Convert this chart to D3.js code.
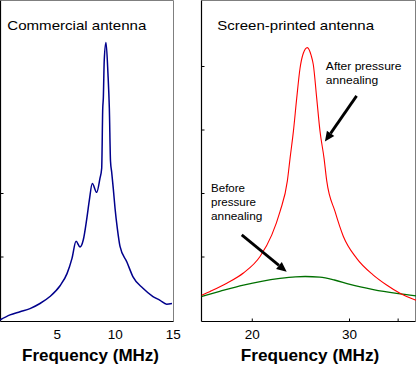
<!DOCTYPE html>
<html>
<head>
<meta charset="utf-8">
<script src="https://cdn.jsdelivr.net/npm/d3@7"></script>
<style>
  body { margin: 0; background: #fff; }
  svg { display: block; }
  text { font-family: "Liberation Sans", Arial, sans-serif; }
</style>
</head>
<body>
<svg id="chart" width="417" height="366"></svg>
<script>
// commercial antenna response (MHz, arbitrary units)
const commercialFreq = [0.10, 0.97, 1.83, 2.69, 3.55, 4.41, 5.28, 5.88, 6.31, 6.66, 7.00, 7.28, 7.58, 7.80,
  8.06, 8.44, 8.72, 8.87, 8.96, 9.01, 9.09, 9.24, 9.41, 9.53, 9.63, 9.73, 9.87, 10.02, 10.22, 10.45,
  11.05, 11.57, 12.43, 13.29, 13.90, 14.47, 14.93];
const commercialResp = [0.00, 0.08, 0.13, 0.18, 0.26, 0.37, 0.54, 0.73, 0.97, 1.24, 1.15, 1.26, 1.59, 1.88,
  2.15, 2.01, 2.23, 2.39, 3.33, 3.49, 4.09, 4.37, 3.88, 3.33, 2.50, 2.33, 2.07, 1.76, 1.44, 1.16,
  0.91, 0.68, 0.50, 0.37, 0.31, 0.25, 0.26];

// screen-printed antenna, after pressure annealing
const afterFreq = [14.85, 15.71, 17.43, 19.14, 20.85, 22.06, 22.91, 23.66, 23.94, 24.28, 24.62, 24.96,
  25.30, 25.71, 26.10, 26.33, 26.68, 27.02, 27.43, 27.71, 28.56, 29.41, 30.79, 32.47, 33.87, 35.24, 36.89];
const afterResp = [0.39, 0.45, 0.58, 0.74, 1.00, 1.34, 1.71, 2.19, 2.55, 2.97, 3.49, 3.96,
  4.20, 4.29, 4.17, 4.02, 3.49, 2.97, 2.55, 2.19, 1.71, 1.32, 0.97, 0.71, 0.55, 0.42, 0.31];

// screen-printed antenna, before pressure annealing
const beforeFreq = [14.85, 16.70, 19.14, 21.00, 22.90, 24.50, 25.50, 27.00, 28.50, 30.10, 32.50, 34.90, 36.89];
const beforeResp = [0.37, 0.45, 0.55, 0.61, 0.655, 0.68, 0.685, 0.675, 0.63, 0.56, 0.48, 0.42, 0.38];

const leftTicksX = [5, 10, 15];
const rightTicksX = [20, 30, 35];
const rightLabelsX = [20, 30];

const svg = d3.select("#chart");
const frameBottom = 321.5, frameTop = 0.5;

const y = d3.scaleLinear().domain([0, 5]).range([320, 2.5]);
const xL = d3.scaleLinear().domain([0, 15]).range([-1.2, 172.8]);
const xR = d3.scaleLinear().domain([14.85, 36.9]).range([201.7, 416.1]);

function frame(x0, x1) {
  svg.append("line").attr("x1", x0).attr("x2", x1).attr("y1", frameTop).attr("y2", frameTop)
    .attr("stroke", "#7f7f7f");
  svg.append("line").attr("x1", x1).attr("x2", x1).attr("y1", frameTop).attr("y2", frameBottom)
    .attr("stroke", "#7f7f7f");
  svg.append("line").attr("x1", x0).attr("x2", x0).attr("y1", frameTop).attr("y2", frameBottom)
    .attr("stroke", "#000").attr("stroke-width", 1.2);
  svg.append("line").attr("x1", x0).attr("x2", x1).attr("y1", frameBottom).attr("y2", frameBottom)
    .attr("stroke", "#000");
}
frame(0.5, 173.5);
frame(201.5, 415.5);

function styleAxis(g) {
  g.select(".domain").remove();
  g.selectAll("line").attr("stroke", "#000");
  g.selectAll("text").attr("font-size", "13.5px").attr("fill", "#000")
    .attr("font-family", '"Liberation Sans", Arial, sans-serif');
}

svg.append("g").attr("transform", "translate(0.5,0)")
  .call(d3.axisLeft(y).tickValues([1, 2]).tickSize(-3).tickFormat(""))
  .call(styleAxis);
svg.append("g").attr("transform", "translate(201.5,0)")
  .call(d3.axisLeft(y).tickValues([1, 2, 3, 4]).tickSize(-3).tickFormat(""))
  .call(styleAxis);

svg.append("g").attr("transform", `translate(0,${frameBottom})`)
  .call(d3.axisBottom(xL).tickValues(leftTicksX).tickSize(0).tickPadding(7.5))
  .call(styleAxis);
svg.append("g").attr("transform", `translate(0,${frameBottom})`)
  .call(d3.axisBottom(xR).tickValues(rightTicksX).tickSize(-3).tickPadding(7.5)
    .tickFormat(d => rightLabelsX.includes(d) ? d : ""))
  .call(styleAxis);

function curve(xs, fs, vs, color, w) {
  const pts = fs.map((f, i) => [f, vs[i]]);
  svg.append("path").datum(pts)
    .attr("fill", "none").attr("stroke", color).attr("stroke-width", w)
    .attr("d", d3.line().x(d => xs(d[0])).y(d => y(d[1])).curve(d3.curveMonotoneX));
}
curve(xL, commercialFreq, commercialResp, "#00008c", 1.5);
curve(xR, beforeFreq, beforeResp, "#007000", 1.3);
curve(xR, afterFreq, afterResp, "#ff0000", 1.1);

// titles
svg.append("text").attr("x", 7.3).attr("y", 30).attr("font-size", "13px")
  .attr("textLength", 139).attr("lengthAdjust", "spacingAndGlyphs").text("Commercial antenna");
svg.append("text").attr("x", 217.3).attr("y", 30).attr("font-size", "13px")
  .attr("textLength", 156.7).attr("lengthAdjust", "spacingAndGlyphs").text("Screen-printed antenna");

svg.append("text").attr("x", 22).attr("y", 361).attr("font-size", "17px").attr("font-weight", "bold")
  .attr("textLength", 137).attr("lengthAdjust", "spacingAndGlyphs").text("Frequency (MHz)");
svg.append("text").attr("x", 240.7).attr("y", 361).attr("font-size", "17px").attr("font-weight", "bold")
  .attr("textLength", 138.6).attr("lengthAdjust", "spacingAndGlyphs").text("Frequency (MHz)");

// annotations
function note(f, v, lines, widths) {
  lines.forEach((t, i) => {
    svg.append("text").attr("x", xR(f)).attr("y", y(v) + i * 14).attr("font-size", "11.5px")
      .attr("textLength", widths[i]).attr("lengthAdjust", "spacingAndGlyphs").text(t);
  });
}
note(27.62, 3.94, ["After pressure", "annealing"], [75.7, 52.3]);
note(15.81, 2.02, ["Before", "pressure", "annealing"], [34, 45, 51.3]);

function arrow(f1, v1, f2, v2) {
  const x1 = xR(f1), y1 = y(v1), x2 = xR(f2), y2 = y(v2);
  const a = Math.atan2(y2 - y1, x2 - x1), len = 10, half = 4.5;
  const bx = x2 - len * Math.cos(a), by = y2 - len * Math.sin(a);
  svg.append("line").attr("x1", x1).attr("y1", y1).attr("x2", bx).attr("y2", by)
    .attr("stroke", "#000").attr("stroke-width", 2.8);
  svg.append("path").attr("fill", "#000")
    .attr("d", `M${x2},${y2}L${bx - half * Math.sin(a)},${by + half * Math.cos(a)}L${bx + half * Math.sin(a)},${by - half * Math.cos(a)}Z`);
}
arrow(30.78, 3.53, 27.52, 2.81);
arrow(18.97, 1.34, 23.59, 0.76);
</script>
</body>
</html>
